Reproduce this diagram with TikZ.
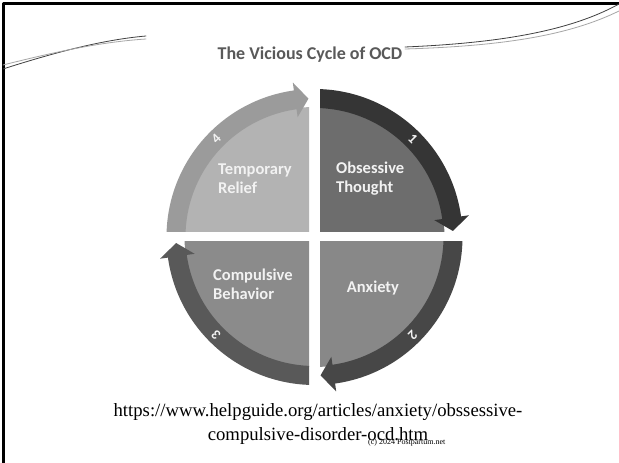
\documentclass[tikz,border=0pt]{standalone}
\usepackage{fontspec}
\setmainfont{Liberation Serif}
\newfontfamily\sansbold{Carlito}[BoldFont={Carlito Bold}]
\usetikzlibrary{positioning}
\definecolor{titlegray}{HTML}{595959}
\definecolor{qfillA}{HTML}{6D6D6D}\definecolor{qringA}{HTML}{353535}
\definecolor{qfillB}{HTML}{888888}\definecolor{qringB}{HTML}{474747}
\definecolor{qfillC}{HTML}{8B8B8B}\definecolor{qringC}{HTML}{595959}
\definecolor{qfillD}{HTML}{B3B3B3}\definecolor{qringD}{HTML}{9B9B9B}
\definecolor{labelwhite}{HTML}{F2F2F2}
% one quarter: fill, ring colour, start angle, end angle, clip box
\newcommand{\cycquad}[5]{%
	\begin{scope}
		\clip #5;
		\fill[#1] (0,0) -- (#3:130) arc[start angle=#3,end angle=#4,radius=130] -- cycle;
		\fill[#2] (#3:148) arc[start angle=#3,end angle=#4+8,radius=148] -- (#4+8:156) -- (#4+2.5:138.5)
			-- (#4+8:121) -- (#4+8:129) arc[start angle=#4+8,end angle=#3,radius=129] -- cycle;
	\end{scope}}
\tikzset{
	quadlabel/.style={font=\sansbold\bfseries\fontsize{16.5}{19}\selectfont,text=labelwhite,align=left,inner sep=0pt},
	stepnum/.style={font=\sansbold\bfseries\fontsize{14}{15}\selectfont,text=labelwhite,inner sep=0pt},
	swoosh/.style={line width=0.8pt,line cap=round},
}
\begin{document}
\begin{tikzpicture}[x=1pt,y=1pt,line join=round]
				\useasboundingbox (0,0) rectangle (619,463);
				\fill[white] (0,0) rectangle (619,463);
				\draw[line width=2.5pt] (3.5,0) -- (3.5,459.5) -- (619,459.5);
				% swooshes
				\draw[swoosh,black!75] (3,394) .. controls (50,409) and (100,423) .. (146,427);
				\draw[swoosh,black!35] (3,398) .. controls (55,411) and (100,421) .. (146,424);
				\draw[swoosh,black!75] (405,416) .. controls (500,420) and (570,432) .. (619,459);
				\draw[swoosh,black!35] (405,414) .. controls (505,417) and (570,428) .. (619,452);
				\node[font=\sansbold\bfseries\fontsize{18}{21}\selectfont,text=titlegray] (title) at (310,408) {The Vicious Cycle of OCD};
				\begin{scope}[shift={(314.5,226)}]
					\cycquad{qfillA}{qringA}{90}{0}{(5.5,5) rectangle (200,200)}
					\cycquad{qfillB}{qringB}{0}{-90}{(5.5,-5) rectangle (200,-200)}
					\cycquad{qfillC}{qringC}{270}{180}{(-5.5,-5) rectangle (-200,-200)}
					\cycquad{qfillD}{qringD}{180}{90}{(-5.5,5) rectangle (-200,200)}
					\node[stepnum,rotate=-45] (one) at (45:139) {1};
					\node[stepnum,rotate=-135] (two) at (-45:139) {2};
					\node[stepnum,rotate=135] (three) at (-135:139) {3};
					\node[stepnum,rotate=45] (four) at (135:139) {4};
					\node[quadlabel,anchor=west] (obsess) at (21.5,58.5) {Obsessive\\Thought};
					\node[quadlabel] (anx) at (58.5,-51) {Anxiety};
					\node[quadlabel,anchor=west] (compul) at (-101.5,-47) {Compulsive\\Behavior};
					\node[quadlabel,anchor=west] (relief) at (-96.5,58.5) {Temporary\\Relief};
				\end{scope}
				\node[font=\fontsize{18.7}{24}\selectfont,align=center,inner sep=0pt] (url) at (318,39)
					{https://www.helpguide.org/articles/anxiety/obssessive-\\compulsive-disorder-ocd.htm};
				\node[font=\fontsize{8}{9}\selectfont,anchor=west,inner sep=0pt] (copy) at (368,20) {(c) 2024 Postpartum.net};
			\end{tikzpicture}
\end{document}
